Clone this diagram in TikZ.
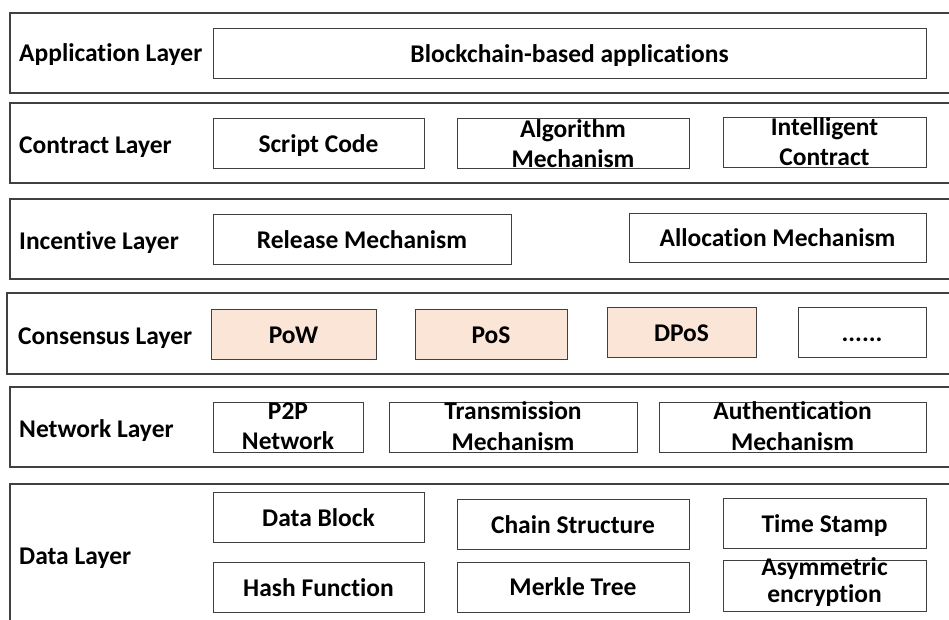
\documentclass[tikz,border=0pt]{standalone}
\usepackage{fontspec}
\setmainfont{Carlito}[Ligatures={NoCommon,NoContextual}]
\definecolor{edge}{HTML}{404040}
\definecolor{peach}{HTML}{FBE5D6}
\tikzset{
  layerbox/.style={draw=edge, line width=1.3pt},
  itembox/.style={draw=edge, line width=1pt, fill=white, inner sep=0pt},
  hotbox/.style={itembox, fill=peach},
  itemtext/.style={anchor=base, inner sep=0pt, font=\bfseries\fontsize{25.5}{30}\selectfont},
  layertitle/.style={anchor=base west, inner sep=0pt, font=\bfseries\fontsize{25.5}{30}\selectfont}
}
% one-line item: name, x1, y1, x2, y2, style, baseline offset below centre, text
\newcommand{\bx}[8]{%
  \node[#6, minimum width={#4-#2}, minimum height={#5-#3}] (#1) at ({(#2+#4)/2},{(#3+#5)/2}) {};
  \node[itemtext] (#1-t) at ([yshift=-#7pt]#1.center) {#8};}
% two-line item: name, x1, y1, x2, y2, style, offset 1, line 1, offset 2, line 2
\newcommand{\bxx}[9]{%
  \node[#6, minimum width={#4-#2}, minimum height={#5-#3}] (#1) at ({(#2+#4)/2},{(#3+#5)/2}) {};
  \node[itemtext] (#1-a) at ([yshift=-#7pt]#1.center) {#8};
  \bxxsecond{#1}{#9}}
\newcommand{\bxxsecond}[3]{\node[itemtext] (#1-b) at ([yshift=-#2pt]#1.center) {#3};}
\begin{document}
\begin{tikzpicture}[x=1pt, y=-1pt]
\clip (0,0) rectangle (949,619);
\fill[white] (0,0) rectangle (949,619);

% layer frames (open to the right)
\draw[layerbox] (10,13) rectangle (960,93);
\draw[layerbox] (10,103) rectangle (960,183);
\draw[layerbox] (10,199) rectangle (960,279);
\draw[layerbox] (7,293) rectangle (960,374);
\draw[layerbox] (10,387) rectangle (960,467);
\draw[layerbox] (10,484) rectangle (960,640);

% layer titles
\node[layertitle] (tapp) at (19,61.7) {Application Layer};
\node[layertitle] (tcon) at (19,153) {Contract Layer};
\node[layertitle] (tinc) at (19,249.3) {Incentive Layer};
\node[layertitle] (tcns) at (18,344) {Consensus Layer};
\node[layertitle] (tnet) at (19,437.3) {Network Layer};
\node[layertitle] (tdat) at (19,564.3) {Data Layer};

% application layer
\bx{apps}{213}{28}{926}{78}{itembox}{9}{Blockchain-based applications}

% contract layer
\bx{script}{213}{118}{424}{168}{itembox}{9}{Script Code}
\bxx{algo}{457}{118}{689}{168}{itembox}{-6}{Algorithm}{24}{Mechanism}
\bxx{smart}{723}{117}{926}{167}{itembox}{-7}{Intelligent}{23.7}{Contract}

% incentive layer
\bx{release}{213}{214}{511}{264}{itembox}{9.3}{Release Mechanism}
\bx{alloc}{629}{213}{926}{262}{itembox}{9}{Allocation Mechanism}

% consensus layer
\bx{pow}{211}{309}{376}{359}{hotbox}{9}{PoW}
\bx{pos}{415}{309}{567}{359}{hotbox}{9.3}{PoS}
\bx{dpos}{607}{307}{756}{357}{hotbox}{9}{DPoS}
\bx{more}{798}{307}{926}{357}{itembox}{9}{......}

% network layer
\bxx{ptp}{213}{402}{363}{452}{itembox}{-7.7}{P2P}{22.3}{Network}
\bxx{trans}{389}{402}{637}{452}{itembox}{-7.7}{Transmission}{23}{Mechanism}
\bxx{auth}{659}{402}{926}{452}{itembox}{-7.7}{Authentication}{23}{Mechanism}

% data layer
\bx{block}{213}{492}{424}{542}{itembox}{9}{Data Block}
\bx{hash}{213}{562}{424}{612}{itembox}{9}{Hash Function}
\bx{chain}{457}{499}{689}{549}{itembox}{9.3}{Chain Structure}
\bx{merkle}{457}{562}{689}{612}{itembox}{8}{Merkle Tree}
\bx{stamp}{723}{498}{926}{548}{itembox}{9.3}{Time Stamp}
\bxx{asym}{723}{560}{926}{611}{itembox}{-10.5}{Asymmetric}{17}{encryption}
\end{tikzpicture}
\end{document}
